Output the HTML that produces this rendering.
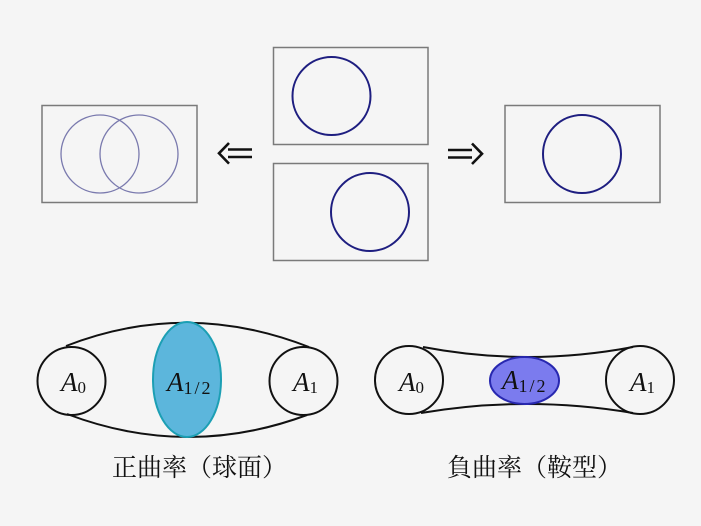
<!DOCTYPE html>
<html>
<head>
<meta charset="utf-8">
<style>
html,body{margin:0;padding:0;background:#f5f5f5;}
svg{display:block;}
</style>
</head>
<body>
<svg width="701" height="526" viewBox="0 0 701 526" xmlns="http://www.w3.org/2000/svg">
<rect x="0" y="0" width="701" height="526" fill="#f5f5f5"/>
<!-- top boxes -->
<g fill="none" stroke="#7a7a7a" stroke-width="1.5">
<rect x="42" y="105.5" width="155" height="97"/>
<rect x="273.5" y="47.5" width="154.5" height="97"/>
<rect x="273.5" y="163.5" width="154.5" height="97"/>
<rect x="505" y="105.5" width="155" height="97"/>
</g>
<g fill="none" stroke="#7a7aae" stroke-width="1.3">
<circle cx="100" cy="154" r="39"/>
<circle cx="139" cy="154" r="39"/>
</g>
<g fill="none" stroke="#1e1e80" stroke-width="2">
<circle cx="331.5" cy="96" r="39"/>
<circle cx="370" cy="212" r="39"/>
<circle cx="582" cy="154" r="39"/>
</g>
<!-- arrows -->
<g fill="none" stroke="#111" stroke-width="2.6" stroke-linecap="butt">
<path d="M228,149.5 H252 M228,157 H252"/>
<path d="M229,143 L219,153.3 L229,163.6"/>
<path d="M448,150 H472 M448,157.5 H472"/>
<path d="M472,143.5 L482,153.8 L472,164"/>
</g>
<!-- bottom left -->
<g fill="none" stroke="#111" stroke-width="2">
<path d="M66,346 Q186.5,299 309,347"/>
<path d="M67,414 Q187,459.5 307,415"/>
<circle cx="71.5" cy="381" r="34"/>
<circle cx="303.5" cy="381" r="34"/>
</g>
<ellipse cx="187" cy="379.5" rx="34" ry="57.5" fill="#5cb6dc" stroke="#1c9fb4" stroke-width="2"/>
<!-- bottom right -->
<g fill="none" stroke="#111" stroke-width="2">
<path d="M423,347 Q528,367 633,347"/>
<path d="M421,413 Q527,395 633,413"/>
<circle cx="409" cy="380" r="34"/>
<circle cx="640" cy="380" r="34"/>
</g>
<ellipse cx="524.5" cy="380.5" rx="34.5" ry="23.5" fill="#7b7bee" stroke="#2828b0" stroke-width="2"/>
<!-- math labels -->
<g font-family="Liberation Serif, serif" fill="#111">
<text x="61" y="391" font-size="27" font-style="italic">A<tspan font-style="normal" font-size="17" dy="2">0</tspan></text>
<text x="167" y="391" font-size="27" font-style="italic">A<tspan font-style="normal" font-size="18" dy="3" letter-spacing="2">1/2</tspan></text>
<text x="293" y="391" font-size="27" font-style="italic">A<tspan font-style="normal" font-size="17" dy="2">1</tspan></text>
<text x="399" y="391" font-size="27" font-style="italic">A<tspan font-style="normal" font-size="17" dy="2">0</tspan></text>
<text x="502" y="389" font-size="27" font-style="italic">A<tspan font-style="normal" font-size="18" dy="3" letter-spacing="2">1/2</tspan></text>
<text x="630" y="391" font-size="27" font-style="italic">A<tspan font-style="normal" font-size="17" dy="2">1</tspan></text>
</g>
<!-- captions -->
<g font-family="Liberation Serif, 'Noto Serif CJK SC', 'Noto Sans CJK JP', serif" font-size="25" fill="#111">
<text x="112" y="476">正曲率（球面）</text>
<text x="447" y="476">負曲率（鞍型）</text>
</g>
</svg>
</body>
</html>
